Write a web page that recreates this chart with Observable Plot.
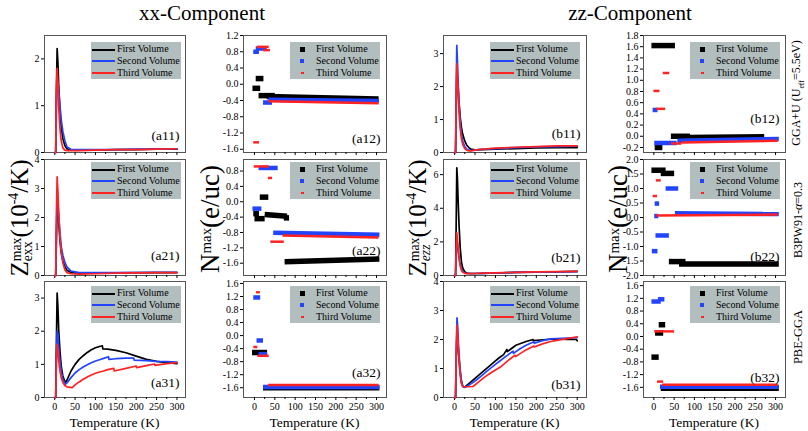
<!DOCTYPE html>
<html><head><meta charset="utf-8">
<script src="https://cdn.jsdelivr.net/npm/d3@7"></script>
<script src="https://cdn.jsdelivr.net/npm/@observablehq/plot@0.6"></script>
<style>
body{margin:0;background:#fff;}
#root{position:relative;width:808px;height:431px;overflow:hidden;font-family:"Liberation Serif","DejaVu Serif",serif;color:#000;}
.abs{position:absolute;white-space:nowrap;}
.rot{position:absolute;transform:translate(-50%,-50%) rotate(-90deg);white-space:nowrap;line-height:1;}
.leg{position:absolute;width:90px;height:37px;background:#b2bebe;}
.leg .t{position:absolute;left:26px;font-size:10px;line-height:12px;white-space:nowrap;color:#000;}
.ss{display:inline-block;vertical-align:middle;line-height:0.85;font-size:0.55em;text-align:left;}
.ss span{display:block;}
</style></head><body><div id="root"></div>
<script>
// ---------- shared labels ----------
const seriesNames = ["First Volume", "Second Volume", "Third Volume"];
const seriesColors = ["#000000", "#2244ff", "#ff2222"];
const xTicks = [0, 50, 100, 150, 200, 250, 300];
const xMinorTicks = [25, 75, 125, 175, 225, 275];

// ---------- line panels: temperatures (K) and Z values ----------
const a11_T = [0, 2.5, 4, 6, 8, 10, 13, 16, 20, 25, 30, 40, 60, 100, 150, 200, 250, 300];
const a11_first = [0, 0, 1.2, 2.22, 1.9, 1.4, 0.9, 0.55, 0.3, 0.15, 0.08, 0.05, 0.05, 0.05, 0.06, 0.06, 0.07, 0.07];
const a11_second = [0, 0, 0.8, 1.5, 1.5, 1.3, 1.0, 0.7, 0.45, 0.25, 0.12, 0.07, 0.06, 0.06, 0.06, 0.07, 0.07, 0.08];
const a11_third = [0, 0, 1.3, 1.8, 1.5, 0.95, 0.5, 0.25, 0.1, 0.05, 0.04, 0.04, 0.04, 0.05, 0.06, 0.06, 0.07, 0.08];

const a21_T = [0, 2.5, 4, 6, 8, 10, 13, 16, 20, 25, 30, 40, 60, 100, 150, 200, 250, 300];
const a21_first = [0, 0, 1.2, 2.6, 2.4, 1.8, 1.2, 0.8, 0.5, 0.3, 0.18, 0.1, 0.08, 0.08, 0.09, 0.1, 0.1, 0.1];
const a21_second = [0, 0, 1.0, 2.5, 2.5, 2.0, 1.5, 1.0, 0.7, 0.45, 0.3, 0.15, 0.1, 0.1, 0.1, 0.1, 0.11, 0.11];
const a21_third = [0, 0, 2.0, 3.4, 2.9, 2.1, 1.3, 0.8, 0.45, 0.2, 0.1, 0.06, 0.05, 0.06, 0.08, 0.09, 0.1, 0.1];

const a31_first_T = [0, 2.5, 4, 6, 8, 10, 13, 16, 20, 26, 30, 40, 50, 60, 70, 80, 90, 100, 110, 117, 118, 130, 150, 175, 200, 225, 250, 275, 300];
const a31_first = [0, 0, 1.5, 3.15, 2.7, 2.0, 1.4, 0.95, 0.65, 0.45, 0.52, 0.8, 1.0, 1.15, 1.26, 1.36, 1.44, 1.5, 1.54, 1.56, 1.47, 1.46, 1.42, 1.35, 1.25, 1.15, 1.09, 1.05, 1.02];
const a31_second_T = [0, 2.5, 4, 6, 8, 10, 13, 16, 20, 26, 30, 40, 50, 60, 70, 80, 90, 100, 110, 120, 132, 133, 150, 175, 194, 195, 225, 250, 275, 300];
const a31_second = [0, 0, 1.0, 2.0, 1.9, 1.5, 1.1, 0.8, 0.55, 0.4, 0.44, 0.6, 0.74, 0.84, 0.92, 0.99, 1.05, 1.1, 1.14, 1.18, 1.23, 1.15, 1.17, 1.19, 1.19, 1.13, 1.11, 1.09, 1.08, 1.07];
const a31_third_T = [0, 2.5, 4, 6, 8, 10, 13, 16, 20, 25, 30, 43, 50, 60, 70, 80, 90, 100, 110, 120, 130, 145, 146, 175, 200, 201, 225, 245, 246, 275, 300];
const a31_third = [0, 0, 1.0, 1.6, 1.4, 1.1, 0.8, 0.6, 0.45, 0.36, 0.32, 0.3, 0.38, 0.47, 0.55, 0.62, 0.68, 0.73, 0.77, 0.8, 0.84, 0.88, 0.8, 0.88, 0.95, 0.9, 0.96, 1.01, 0.97, 1.02, 1.05];

const b11_T = [0, 2.5, 4, 5.5, 7, 9, 11, 14, 17, 20, 25, 30, 35, 40, 50, 70, 100, 150, 200, 250, 300];
const b11_first = [0, 0, 1.2, 2.4, 2.3, 1.9, 1.5, 1.05, 0.75, 0.55, 0.35, 0.22, 0.15, 0.1, 0.08, 0.09, 0.1, 0.12, 0.14, 0.15, 0.15];
const b11_second = [0, 0, 1.8, 3.25, 2.8, 2.1, 1.5, 0.9, 0.55, 0.35, 0.18, 0.1, 0.07, 0.06, 0.07, 0.1, 0.12, 0.15, 0.17, 0.18, 0.19];
const b11_third = [0, 0, 1.5, 2.7, 2.4, 1.8, 1.2, 0.7, 0.4, 0.25, 0.12, 0.07, 0.05, 0.05, 0.07, 0.1, 0.13, 0.16, 0.18, 0.2, 0.2];

const b21_T = [0, 2.5, 4, 5.5, 7, 9, 11, 14, 17, 20, 25, 30, 40, 50, 70, 100, 150, 200, 250, 300];
const b21_first = [0, 0, 3, 6.4, 5.8, 4.3, 3.0, 1.6, 0.8, 0.45, 0.22, 0.15, 0.12, 0.12, 0.13, 0.15, 0.18, 0.2, 0.22, 0.24];
const b21_second = [0, 0, 1, 2.0, 1.9, 1.5, 1.1, 0.65, 0.4, 0.25, 0.15, 0.12, 0.11, 0.12, 0.13, 0.15, 0.18, 0.2, 0.22, 0.23];
const b21_third = [0, 0, 1.5, 2.55, 2.2, 1.6, 1.0, 0.55, 0.3, 0.2, 0.13, 0.11, 0.11, 0.12, 0.14, 0.16, 0.19, 0.21, 0.23, 0.25];

const b31_first_T = [0, 2.5, 4, 6, 8, 10, 13, 16, 20, 25, 30, 40, 50, 60, 70, 80, 90, 100, 110, 120, 128, 129, 150, 175, 192, 193, 225, 250, 275, 298, 300];
const b31_first = [0, 0, 1.2, 2.3, 2.0, 1.5, 1.0, 0.6, 0.38, 0.36, 0.42, 0.54, 0.66, 0.78, 0.9, 1.02, 1.14, 1.26, 1.38, 1.48, 1.66, 1.58, 1.8, 1.93, 2.0, 1.96, 2.0, 2.02, 2.0, 2.0, 1.95];
const b31_second_T = [0, 2.5, 4, 6, 8, 10, 13, 16, 20, 25, 30, 40, 50, 60, 70, 80, 90, 100, 110, 120, 130, 143, 144, 160, 175, 194, 195, 215, 235, 250, 275, 300];
const b31_second = [0, 0, 1.5, 2.75, 2.4, 1.7, 1.1, 0.65, 0.4, 0.35, 0.38, 0.47, 0.57, 0.68, 0.8, 0.92, 1.03, 1.14, 1.25, 1.36, 1.46, 1.6, 1.52, 1.68, 1.8, 1.92, 1.87, 1.96, 2.02, 2.03, 2.05, 2.06];
const b31_third_T = [0, 2.5, 4, 6, 8, 10, 13, 16, 20, 30, 45, 60, 75, 90, 100, 112, 125, 135, 148, 149, 170, 194, 195, 215, 235, 250, 275, 300];
const b31_third = [0, 0, 1.4, 2.5, 2.1, 1.5, 0.9, 0.5, 0.38, 0.37, 0.38, 0.55, 0.72, 0.86, 0.95, 1.05, 1.2, 1.32, 1.46, 1.41, 1.6, 1.78, 1.74, 1.85, 1.93, 1.97, 2.03, 2.09];

// ---------- scatter panels: runs of points [T start, T end, N start, N end] ----------
const a12_first = [[-5, 14, -0.10, -0.10], [3, 22, 0.14, 0.14], [10, 50, -0.28, -0.28], [30, 305, -0.30, -0.36]];
const a12_second = [[-3, 11, 0.80, 0.80], [3, 30, 0.88, 0.88], [21, 43, -0.45, -0.45], [34, 306, -0.38, -0.41]];
const a12_third = [[-3, 11, -1.43, -1.43], [6, 35, 0.92, 0.92], [21, 38, 0.84, 0.84], [34, 305, -0.42, -0.47]];

const a22_first = [[-3, 11, -0.31, -0.31], [0, 25, -0.44, -0.44], [13, 34, 0.12, 0.12], [25, 80, -0.33, -0.38], [72, 85, -0.42, -0.42], [74, 307, -1.56, -1.49]];
const a22_second = [[-5, 17, -0.18, -0.18], [10, 57, 0.88, 0.88], [46, 307, -0.81, -0.86]];
const a22_third = [[-2, 35, 0.92, 0.92], [33, 43, 0.62, 0.62], [39, 72, -1.04, -1.04], [69, 305, -0.88, -0.93]];

const a32_first = [[-6, 31, -0.52, -0.52], [21, 307, -1.60, -1.60]];
const a32_second = [[-3, 14, 1.17, 1.17], [5, 21, -0.15, -0.15], [10, 31, -0.57, -0.57], [21, 307, -1.58, -1.58]];
const a32_third = [[4, 13, 1.33, 1.33], [-3, 7, -0.35, -0.35], [7, 35, -0.62, -0.62], [33, 305, -1.52, -1.52]];

const b12_first = [[-6, 52, 1.62, 1.62], [2, 21, -0.20, -0.20], [42, 89, 0.0, 0.0], [80, 272, -0.02, -0.01]];
const b12_second = [[-3, 9, 0.47, 0.47], [1, 56, -0.12, -0.12], [58, 308, -0.08, -0.05]];
const b12_third = [[-1, 14, 0.81, 0.81], [22, 38, 1.13, 1.13], [6, 28, 0.49, 0.49], [42, 68, -0.13, -0.13], [68, 305, -0.11, -0.08]];

const b22_first = [[-6, 29, 1.63, 1.63], [17, 50, 1.52, 1.52], [37, 78, -1.52, -1.52], [62, 308, -1.60, -1.60]];
const b22_second = [[-5, 9, -1.16, -1.16], [2, 13, 0.48, 0.48], [1, 11, 0.05, 0.05], [4, 37, -0.62, -0.62], [29, 60, 1.0, 1.0], [52, 308, 0.15, 0.12]];
const b22_third = [[-3, 8, 0.74, 0.74], [5, 17, 1.28, 1.28], [6, 305, 0.07, 0.10]];

const b32_first = [[-6, 12, -0.65, -0.65], [3, 23, 0.11, 0.11], [12, 28, 0.37, 0.37], [17, 308, -1.63, -1.63]];
const b32_second = [[-6, 17, 1.10, 1.10], [10, 26, 1.17, 1.17], [15, 308, -1.58, -1.58]];
const b32_third = [[1, 50, 0.16, 0.16], [8, 23, -1.42, -1.42], [20, 305, -1.52, -1.52]];

// ---------- y ticks ----------
const yt_a11 = [0, 1, 2], yt_a21 = [0, 1, 2, 3, 4], yt_a31 = [0, 1, 2, 3];
const yt_b11 = [0, 1, 2, 3], yt_b21 = [0, 2, 4, 6], yt_b31 = [0, 1, 2, 3, 4];
const yt_a12 = [1.2, 0.8, 0.4, 0, -0.4, -0.8, -1.2, -1.6];
const yt_a22 = [0.8, 0.4, 0, -0.4, -0.8, -1.2, -1.6];
const yt_a32 = [1.6, 1.2, 0.8, 0.4, 0, -0.4, -0.8, -1.2, -1.6];
const yt_b12 = [1.8, 1.6, 1.4, 1.2, 1.0, 0.8, 0.6, 0.4, 0.2, 0, -0.2];
const yt_b22 = [2, 1.5, 1, 0.5, 0, -0.5, -1, -1.5, -2];
const yt_b32 = [1.6, 1.2, 0.8, 0.4, 0, -0.4, -0.8, -1.2, -1.6];

// ---------- layout ----------
const root = document.getElementById("root");
const cols = [
  {L: 44, R: 185, xd: [-25, 321]},
  {L: 243, R: 386, xd: [-27, 324.5]},
  {L: 443, R: 586, xd: [-27, 322.7]},
  {L: 643, R: 785, xd: [-25.5, 324.5]}
];
const rows = [{T: 35, B: 152}, {T: 159, B: 275}, {T: 281, B: 397}];
const legTops = [42, 162, 286];
const serif = '"Liberation Serif", "DejaVu Serif", serif';
const fmt1 = d => d3.format(".1f")(d).replace("\u2212", "-");
const fmt0 = d => String(d);

function panel(cfg) {
  const c = cols[cfg.col], r = rows[cfg.row];
  const fw = c.R - c.L, fh = r.B - r.T;
  const mL = 36, mR = 6, mT = 4, mB = 26;
  const bottom = cfg.row === 2;
  const marks = [
    Plot.frame({stroke: "#555"}),
    Plot.axisX({ticks: xTicks, tickSize: 3, tickPadding: 2, tickFormat: bottom ? fmt0 : () => "", label: null}),
    Plot.axisX({ticks: xMinorTicks, tickSize: 2, tickFormat: () => "", label: null}),
    Plot.axisY({ticks: cfg.yt, tickSize: 3, tickPadding: 2, tickFormat: cfg.fmt, label: null})
  ];
  if (cfg.type === "line") {
    cfg.series.forEach((s, i) => {
      const data = s.t.map((t, k) => ({t, v: s.v[k]}));
      marks.push(Plot.line(data, {x: "t", y: "v", stroke: seriesColors[i], strokeWidth: 1.7}));
    });
  } else {
    const widths = [5.5, 4.5, 2.5];
    cfg.series.forEach((s, i) => {
      const data = s.map(([t1, t2, v1, v2]) => ({t1, t2, v1, v2}));
      marks.push(Plot.link(data, {x1: "t1", x2: "t2", y1: "v1", y2: "v2", stroke: seriesColors[i], strokeWidth: widths[i], strokeLinecap: "butt"}));
    });
  }
  marks.push(Plot.text([cfg.label], {text: d => d, frameAnchor: "bottom-right", lineAnchor: "middle", dx: -6, dy: -cfg.lab, fontSize: 13.5, fontFamily: serif}));
  const svg = Plot.plot({
    width: fw + mL + mR, height: fh + mT + mB,
    marginLeft: mL, marginRight: mR, marginTop: mT, marginBottom: mB,
    style: {fontFamily: serif, fontSize: "10px", background: "transparent", overflow: "visible"},
    x: {domain: c.xd, label: null},
    y: {domain: cfg.yd, label: null},
    marks
  });
  svg.style.position = "absolute";
  svg.style.left = (c.L - mL) + "px";
  svg.style.top = (r.T - mT) + "px";
  root.appendChild(svg);
  legend(cfg.col, cfg.row, cfg.type);
}

function legend(col, row, type) {
  const c = cols[col];
  const div = document.createElement("div");
  div.className = "leg";
  div.style.left = (c.L + 47) + "px";
  div.style.top = legTops[row] + "px";
  seriesNames.forEach((n, i) => {
    const cy = 7.6 + i * 11.7;
    const m = document.createElement("div");
    m.style.position = "absolute";
    m.style.background = seriesColors[i];
    if (type === "line") {
      m.style.left = "1px"; m.style.width = "23px"; m.style.height = "2px"; m.style.top = (cy - 1) + "px";
    } else {
      const sz = [[5, 5], [4, 4], [3, 2]][i];
      m.style.width = sz[0] + "px"; m.style.height = sz[1] + "px";
      m.style.left = (12 - sz[0] / 2) + "px"; m.style.top = (cy - sz[1] / 2) + "px";
    }
    div.appendChild(m);
    const t = document.createElement("div");
    t.className = "t";
    t.style.top = (cy - 6.5) + "px";
    t.textContent = n;
    div.appendChild(t);
  });
  root.appendChild(div);
}

const L = (t, v) => ({t, v});
panel({col: 0, row: 0, type: "line", label: "(a11)", lab: 17, yd: [0, 2.5], yt: yt_a11, fmt: fmt0, series: [L(a11_T, a11_first), L(a11_T, a11_second), L(a11_T, a11_third)]});
panel({col: 0, row: 1, type: "line", label: "(a21)", lab: 20, yd: [0, 4], yt: yt_a21, fmt: fmt0, series: [L(a21_T, a21_first), L(a21_T, a21_second), L(a21_T, a21_third)]});
panel({col: 0, row: 2, type: "line", label: "(a31)", lab: 15, yd: [0, 3.5], yt: yt_a31, fmt: fmt0, series: [L(a31_first_T, a31_first), L(a31_second_T, a31_second), L(a31_third_T, a31_third)]});
panel({col: 2, row: 0, type: "line", label: "(b11)", lab: 19, yd: [0, 3.55], yt: yt_b11, fmt: fmt0, series: [L(b11_T, b11_first), L(b11_T, b11_second), L(b11_T, b11_third)]});
panel({col: 2, row: 1, type: "line", label: "(b21)", lab: 18, yd: [0, 6.9], yt: yt_b21, fmt: fmt0, series: [L(b21_T, b21_first), L(b21_T, b21_second), L(b21_T, b21_third)]});
panel({col: 2, row: 2, type: "line", label: "(b31)", lab: 13, yd: [0, 4], yt: yt_b31, fmt: fmt0, series: [L(b31_first_T, b31_first), L(b31_second_T, b31_second), L(b31_third_T, b31_third)]});
panel({col: 1, row: 0, type: "scatter", label: "(a12)", lab: 14, yd: [-1.68, 1.2], yt: yt_a12, fmt: fmt1, series: [a12_first, a12_second, a12_third]});
panel({col: 1, row: 1, type: "scatter", label: "(a22)", lab: 25, yd: [-1.92, 1.1], yt: yt_a22, fmt: fmt1, series: [a22_first, a22_second, a22_third]});
panel({col: 1, row: 2, type: "scatter", label: "(a32)", lab: 25, yd: [-1.9, 1.66], yt: yt_a32, fmt: fmt1, series: [a32_first, a32_second, a32_third]});
panel({col: 3, row: 0, type: "scatter", label: "(b12)", lab: 34, yd: [-0.29, 1.8], yt: yt_b12, fmt: fmt1, series: [b12_first, b12_second, b12_third]});
panel({col: 3, row: 1, type: "scatter", label: "(b22)", lab: 19, yd: [-2, 2], yt: yt_b22, fmt: fmt1, series: [b22_first, b22_second, b22_third]});
panel({col: 3, row: 2, type: "scatter", label: "(b32)", lab: 20, yd: [-1.92, 1.73], yt: yt_b32, fmt: fmt1, series: [b32_first, b32_second, b32_third]});

// ---------- text labels ----------
function addText(html, x, y, style, rotated) {
  const d = document.createElement("div");
  d.className = rotated ? "rot" : "abs";
  d.innerHTML = html;
  Object.assign(d.style, style);
  d.style.left = x + "px"; d.style.top = y + "px";
  if (!rotated) d.style.transform = "translate(-50%,-50%)";
  root.appendChild(d);
}
addText("xx-Component", 202, 13, {fontSize: "21px"});
addText("zz-Component", 630, 13, {fontSize: "21px"});
cols.forEach(c => addText("Temperature (K)", (c.L + c.R) / 2, 423, {fontSize: "13.5px"}));
addText('Z<span class="ss"><span>max</span><span>exx</span></span>(10<sup style="font-size:0.55em">-4</sup>/K)', 20, 218, {fontSize: "25px"}, true);
addText('N<span class="ss"><span>max</span><span>&nbsp;</span></span>(e/uc)', 211, 219, {fontSize: "27px"}, true);
addText('Z<span class="ss"><span>max</span><span><i>ezz</i></span></span>(10<sup style="font-size:0.55em">-4</sup>/K)', 418, 218, {fontSize: "25px"}, true);
addText('N<span class="ss"><span>max</span><span>&nbsp;</span></span>(e/uc)', 619, 219, {fontSize: "27px"}, true);
addText('GGA+U (U<sub style="font-size:0.65em">eff</sub>=5.5eV)', 798, 93, {fontSize: "12px"}, true);
addText('B3PW91-<i>α</i>=0.3', 798, 220, {fontSize: "12px"}, true);
addText('PBE-GGA', 798, 337, {fontSize: "12.5px"}, true);
</script></body></html>
